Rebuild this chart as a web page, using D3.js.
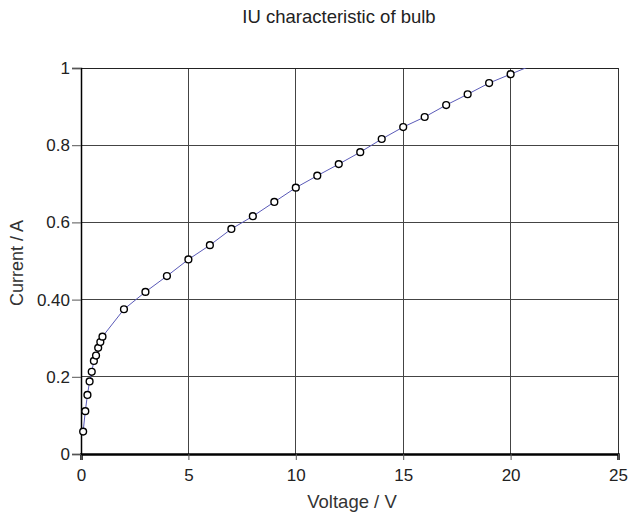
<!DOCTYPE html>
<html>
<head>
<meta charset="utf-8">
<script src="https://cdn.jsdelivr.net/npm/d3@7"></script>
<style>
  html, body { margin: 0; padding: 0; background: #fff; }
  svg { display: block; font-family: "Liberation Sans", Arial, sans-serif; }
</style>
</head>
<body>
<svg id="chart" width="629" height="515"></svg>
<script>
// Measured current through a bulb against applied voltage
const voltage = [0.1, 0.2, 0.3, 0.4, 0.5, 0.6, 0.7, 0.8, 0.9, 1.0,
                 2, 3, 4, 5, 6, 7, 8, 9, 10, 11, 12, 13, 14, 15, 16, 17, 18, 19, 20];
const current = [0.058, 0.111, 0.153, 0.188, 0.213, 0.241, 0.255, 0.275, 0.290, 0.304,
                 0.375, 0.420, 0.461, 0.504, 0.541, 0.583, 0.616, 0.653, 0.690, 0.721,
                 0.751, 0.782, 0.816, 0.847, 0.873, 0.904, 0.932, 0.961, 0.984];
// trend line carries on past the last reading to the edge of the plot
const trendV = [21];
const trendI = [1.007];

const xTicks = [0, 5, 10, 15, 20, 25];
const yTicks = [0, 0.2, 0.4, 0.6, 0.8, 1];
const yTickLabels = ["0", "0.2", "0.40", "0.6", "0.8", "1"];

const title = "IU characteristic of bulb";
const xTitle = "Voltage / V";
const yTitle = "Current / A";

const svg = d3.select("#chart");
const margin = { left: 81, right: 11, top: 68, bottom: 61 };
const W = 629, H = 515;
const FONT = "Liberation Sans, Arial, sans-serif";

const x = d3.scaleLinear().domain([0, 25]).range([margin.left, W - margin.right]);
const y = d3.scaleLinear().domain([0, 1]).range([H - margin.bottom, margin.top]);

// grid
const grid = svg.append("g");
grid.selectAll("line.v").data(xTicks.slice(1, -1)).join("line")
  .attr("x1", d => x(d)).attr("x2", d => x(d))
  .attr("y1", y(0)).attr("y2", y(1))
  .attr("stroke", "#444").attr("stroke-width", 1).attr("shape-rendering", "crispEdges");
grid.selectAll("line.h").data(yTicks.slice(1, -1)).join("line")
  .attr("x1", x(0)).attr("x2", x(25))
  .attr("y1", d => y(d)).attr("y2", d => y(d))
  .attr("stroke", "#444").attr("stroke-width", 1).attr("shape-rendering", "crispEdges");

// frame
svg.append("line").attr("x1", x(0)).attr("x2", x(25)).attr("y1", y(1)).attr("y2", y(1))
  .attr("stroke", "#222").attr("shape-rendering", "crispEdges");
svg.append("line").attr("x1", x(25)).attr("x2", x(25)).attr("y1", y(1)).attr("y2", y(0))
  .attr("stroke", "#333").attr("shape-rendering", "crispEdges");

// axes
const xAxis = d3.axisBottom(x).tickValues(xTicks).tickSize(6).tickPadding(9)
  .tickFormat(d3.format("d"));
const gx = svg.append("g").attr("transform", `translate(0,${y(0)})`).call(xAxis);
gx.select(".domain").attr("stroke", "#000").attr("stroke-width", 2.5);
gx.selectAll(".tick line").attr("stroke", "#555");
gx.selectAll(".tick text").attr("font-size", 17).attr("fill", "#222")
  .attr("font-family", FONT);

const yAxis = d3.axisLeft(y).tickValues(yTicks).tickSize(9).tickPadding(2)
  .tickFormat((d, i) => yTickLabels[i]);
const gy = svg.append("g").attr("transform", `translate(${x(0)},0)`).call(yAxis);
gy.select(".domain").attr("stroke", "#000").attr("stroke-width", 1.5);
gy.selectAll(".tick line").attr("stroke", "#555");
gy.selectAll(".tick text").attr("font-size", 17).attr("fill", "#222")
  .attr("font-family", FONT);

// clip for the curve
svg.append("clipPath").attr("id", "plotClip").append("rect")
  .attr("x", x(0)).attr("y", y(1)).attr("width", x(25) - x(0)).attr("height", y(0) - y(1));

const pts = voltage.map((v, i) => ({ v, i: current[i] }));
const linePts = pts.concat(trendV.map((v, k) => ({ v, i: trendI[k] })));

svg.append("path")
  .datum(linePts)
  .attr("clip-path", "url(#plotClip)")
  .attr("fill", "none")
  .attr("stroke", "#5a5ab8")
  .attr("stroke-width", 1)
  .attr("d", d3.line().x(d => x(d.v)).y(d => y(d.i)));

svg.append("g").selectAll("circle").data(pts).join("circle")
  .attr("cx", d => x(d.v)).attr("cy", d => y(d.i)).attr("r", 3.4)
  .attr("fill", "#fff").attr("stroke", "#000").attr("stroke-width", 1.4);

// titles
svg.append("text").attr("x", 339).attr("y", 23).attr("text-anchor", "middle")
  .attr("font-size", 18.5).attr("fill", "#222").text(title);
svg.append("text").attr("x", 352).attr("y", 508).attr("text-anchor", "middle")
  .attr("font-size", 18.5).attr("fill", "#333").text(xTitle);
svg.append("text").attr("transform", `translate(22.5,263) rotate(-90)`)
  .attr("text-anchor", "middle").attr("font-size", 18).attr("fill", "#333").text(yTitle);
</script>
</body>
</html>
